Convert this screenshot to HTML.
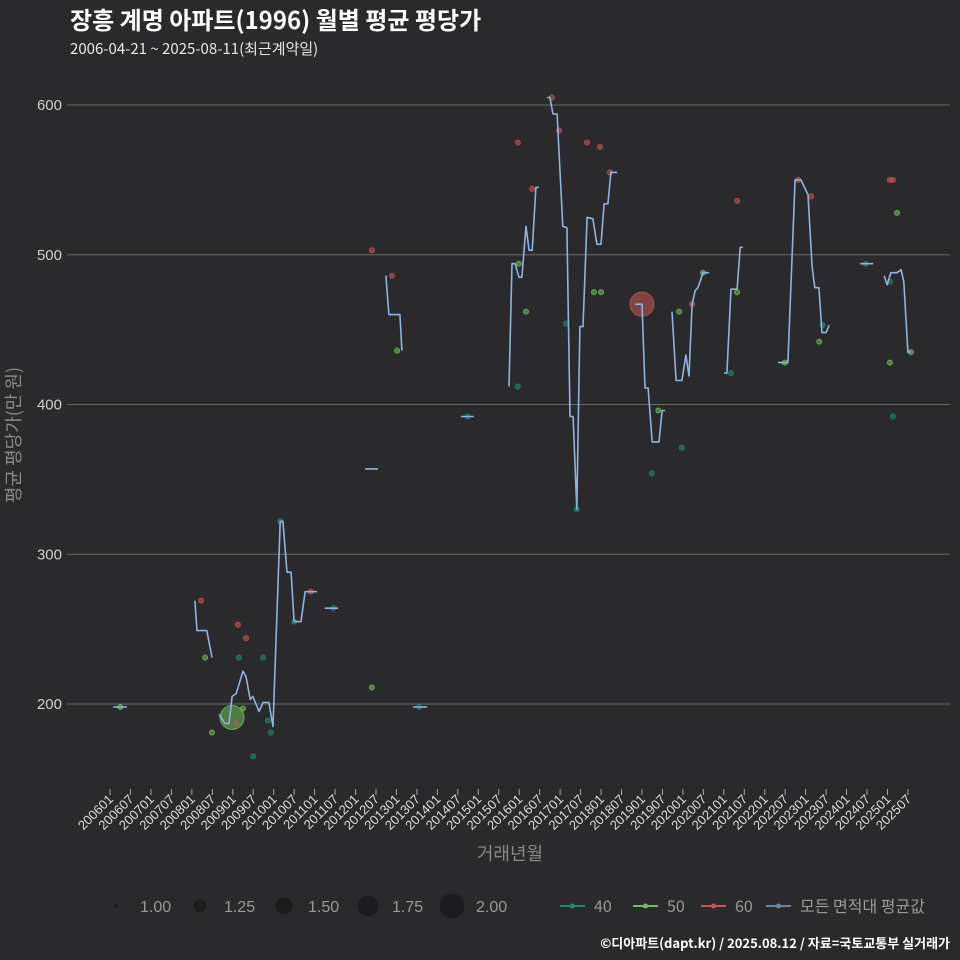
<!DOCTYPE html>
<html><head><meta charset="utf-8">
<style>
html,body{margin:0;padding:0;background:#2a2a2c;}
svg{display:block;}
text{font-family:"Liberation Sans","Noto Sans CJK KR",sans-serif;}
.kr{font-family:"Noto Sans CJK KR","Liberation Sans",sans-serif;}
</style></head>
<body>
<svg id="chart" width="960" height="960" viewBox="0 0 960 960">
<rect width="960" height="960" fill="#2a2a2c"/>
<text class="kr" x="70" y="29" font-size="24" font-weight="bold" fill="#ffffff">장흥 계명 아파트(1996) 월별 평균 평당가</text>
<text class="kr" x="70" y="54" font-size="15" fill="#e6e6e6">2006-04-21 ~ 2025-08-11(최근계약일)</text>
<g id="grid"></g>
<g id="yaxis"></g>
<g id="xaxis"></g>
<text class="kr" x="0" y="0" transform="translate(20,435) rotate(-90)" text-anchor="middle" font-size="18" fill="#8a8a8a">평균 평당가(만 원)</text>
<text class="kr" x="510" y="860" text-anchor="middle" font-size="18" fill="#8a8a8a">거래년월</text>
<g id="points"></g>
<g id="lines"></g>
<g id="legend"></g>
<text class="kr" x="950" y="948" text-anchor="end" font-size="13" font-weight="bold" fill="#ffffff">©디아파트(dapt.kr) / 2025.08.12 / 자료=국토교통부 실거래가</text>
</svg>
<script>
const yTicks = [200, 300, 400, 500, 600];
const xTickLabels = ["200601","200607","200701","200707","200801","200807","200901","200907","201001","201007","201101","201107","201201","201207","201301","201307","201401","201407","201501","201507","201601","201607","201701","201707","201801","201807","201901","201907","202001","202007","202101","202107","202201","202207","202301","202307","202401","202407","202501","202507"];
const avgMonths = [0.9,5.0,null,24.9,25.5,28.4,29.9,null,32.0,33.7,34.9,35.8,37.0,39.0,39.9,41.1,41.9,43.7,44.9,46.6,47.8,49.9,50.7,51.9,53.1,54.0,56.0,57.2,60.7,null,63.0,66.9,null,74.8,78.6,null,80.9,81.8,85.0,85.6,null,88.9,93.0,null,102.9,106.7,null,117.0,117.9,118.8,119.9,120.8,122.0,122.9,123.8,124.9,125.8,null,128.2,129.0,129.9,131.1,132.8,134.0,134.9,135.8,136.9,137.8,138.7,139.9,141.6,142.8,144.0,144.9,146.0,146.9,148.7,null,154.0,156.0,156.9,157.8,159.0,161.0,161.9,162.8,null,164.8,166.0,167.7,168.9,169.8,170.7,171.6,172.4,173.9,175.7,null,180.1,180.9,182.1,183.9,184.8,185.6,null,195.9,198.8,200.9,202.6,204.7,205.9,206.7,207.9,208.8,210.0,210.9,null,219.9,223.8,null,227.0,227.9,229.0,230.8,232.0,232.8,234.0,234.9];
const avgValues = [198,198,null,269,249,249,231,null,193,187,187,205,207,222,218,203,205,195,201,201,185,322,322,288,288,255,255,275,275,null,264,264,null,357,357,null,486,460,460,436,null,198,198,null,392,392,null,412,494,494,485,485,519,503,503,545,545,null,605,605,594,594,519,518,392,392,330,452,452,525,524,507,507,534,534,555,555,null,467,467,411,411,375,375,396,396,null,462,416,416,433,419,467,476,478,488,488,null,421,421,477,477,505,505,null,428,428,550,550,540,492,478,478,448,448,453,null,494,494,null,486,480,488,488,490,482,435,435];
const pts40Months = [37.8,44.9,42.0,46.3,47.2,49.9,54.0,65.5,90.7,104.9,119.6,133.7,136.9,158.9,167.7,182.1,209.0,221.6,228.7,229.6];
const pts40Values = [231,231,165,189,181,322,255,264,198,392,412,454,330,354,371,421,453,494,482,392];
const pts50Months = [3.0,27.9,35.8,39.0,29.9,76.8,84.2,119.9,122.0,141.9,144.0,160.8,166.9,173.9,183.9,197.9,208.0,228.7,230.8,234.9];
const pts50Values = [198,231,191,197,181,211,436,494,462,475,475,396,462,488,475,428,442,428,528,435];
const pts50Sizes = [1,1,2,1,1,1,1,1,1,1,1,1,1,1,1,1,1,1,1,1];
const pts60Months = [26.7,37.5,39.9,36.9,58.9,76.8,82.7,119.6,123.8,129.6,131.7,139.9,143.7,146.6,170.7,183.9,201.8,205.6,228.7,229.6,156.0];
const pts60Values = [269,253,244,187,275,503,486,575,544,605,583,575,572,555,467,536,550,539,550,550,467];
const pts60Sizes = [1,1,1,1,1,1,1,1,1,1,1,1,1,1,1,1,1,1,1,1,2];

const NS = "http://www.w3.org/2000/svg";
function xScale(m){ return 110 + m * 3.41; }
function yScale(v){ return 704 - (v - 200) * 1.4975; }
function rScale(s){ return 2.5 + (s - 1) * 9.5; }
function mk(tag, attrs, parent){ const e=document.createElementNS(NS,tag); for(const k in attrs) e.setAttribute(k,attrs[k]); parent.appendChild(e); return e; }

const grid=document.getElementById('grid'), yaxis=document.getElementById('yaxis'), xaxis=document.getElementById('xaxis');
yTicks.forEach(t=>{
  const l=mk('line',{x1:67,x2:950,y1:yScale(t),y2:yScale(t),stroke:'#6a6a6a','stroke-width':1},grid);
  
  
  const tx=mk('text',{x:62,y:yScale(t)+5,'text-anchor':'end','font-size':15,fill:'#cfcfcf'},yaxis);
  tx.textContent=t;
  
  
});
xTickLabels.forEach((lab,i)=>{
  const yr=+lab.slice(0,4), mo=+lab.slice(4);
  const m=(yr-2006)*12+(mo-1);
  const x=xScale(m);
  const tk=mk('line',{x1:x,x2:x,y1:789,y2:795,stroke:'#aaaaaa','stroke-width':1},xaxis);
  
  
  const tx=mk('text',{x:0,y:0,'text-anchor':'end','font-size':13,fill:'#dddddd',transform:`translate(${x+4},${800}) rotate(-45)`},xaxis);
  tx.textContent=lab;
  
  
});

const pg=document.getElementById('points');
function drawPts(ms,vs,ss,col,name){
  ms.forEach((m,i)=>{
    const s=ss?ss[i]:1;
    const c=mk('circle',{cx:xScale(m),cy:yScale(vs[i]),r:rScale(s),fill:col,'fill-opacity':0.55,stroke:col,'stroke-opacity':0.8,'stroke-width':1},pg);
    
    
  });
}
drawPts(pts40Months,pts40Values,null,'#1f8a78','area-40');
drawPts(pts50Months,pts50Values,pts50Sizes,'#6fbf5a','area-50');
drawPts(pts60Months,pts60Values,pts60Sizes,'#c95555','area-60');

const lg=document.getElementById('lines');
let d='', pen=false;
avgMonths.forEach((m,i)=>{
  if(m===null||avgValues[i]===null){pen=false;return;}
  d+=(pen?'L':'M')+xScale(m).toFixed(1)+' '+yScale(avgValues[i]).toFixed(1)+' ';
  pen=true;
});
const path=mk('path',{d:d,fill:'none',stroke:'#8fb3e0','stroke-width':1.6,'stroke-linejoin':'round'},lg);



const leg=document.getElementById('legend');
const sizeLabels=["1.00","1.25","1.50","1.75","2.00"];
const sizeRadii=[2,6.5,8.5,10.5,12.5];
sizeLabels.forEach((s,i)=>{
  const cx=116+i*84;
  const c=mk('circle',{cx:cx,cy:906,r:sizeRadii[i],fill:'#1c1c1e'},leg);
  
  
  const t=mk('text',{x:cx+24,y:912,'font-size':16,fill:'#9a9a9a'},leg);
  t.textContent=s;
  
  
});
const colLeg=[["40","#1f8a78",560],["50","#6fbf5a",633],["60","#c95555",701],["모든 면적대 평균값","#6d86a8",766]];
colLeg.forEach(([lab,col,x])=>{
  const l=mk('line',{x1:x,x2:x+25,y1:906,y2:906,stroke:col,'stroke-width':2},leg);
  
  
  const c=mk('circle',{cx:x+12.5,cy:906,r:2.5,fill:col},leg);
  
  
  const t=mk('text',{x:x+34,y:912,'font-size':16,fill:'#9a9a9a',class:'kr'},leg);
  t.textContent=lab;
  
  
});
</script>
</body></html>
